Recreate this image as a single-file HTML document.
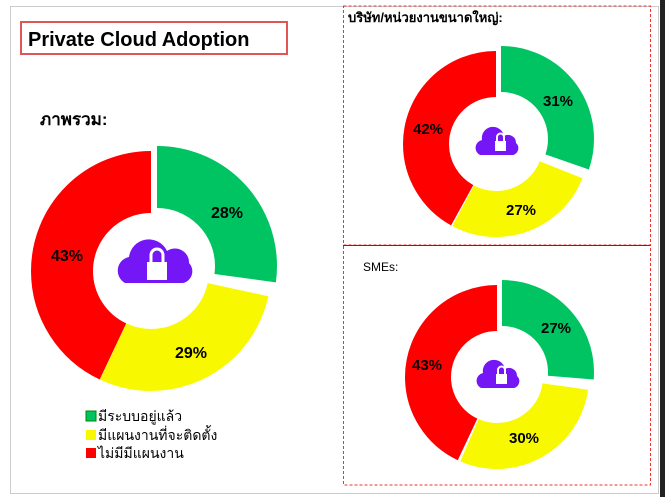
<!DOCTYPE html>
<html><head><meta charset="utf-8"><style>
html,body{margin:0;padding:0;background:#fff;}
body{width:665px;height:497px;overflow:hidden;position:relative;font-family:"Liberation Sans","Noto Sans CJK SC",sans-serif;}
</style></head><body>
<svg width="665" height="497" viewBox="0 0 665 497" xmlns="http://www.w3.org/2000/svg" style="position:absolute;left:0;top:0">
<rect x="10.5" y="6.5" width="648" height="487" fill="none" stroke="#ccc" stroke-width="1"/>
<rect x="660" y="0" width="5" height="497" fill="#222"/>
<rect x="21" y="22" width="266" height="32" fill="#fff" stroke="#e05555" stroke-width="2"/>
<text x="28" y="46" font-size="20" font-weight="bold" fill="#000">Private Cloud Adoption</text>
<text x="40" y="125" font-size="17" font-weight="bold" font-family="Liberation Sans,Noto Sans CJK SC,sans-serif">ภาพรวม:</text>
<rect x="343.5" y="6" width="307" height="239" fill="none" stroke="#e33" stroke-dasharray="3,2"/>
<rect x="343.5" y="245" width="307" height="240" fill="none" stroke="#e33" stroke-dasharray="3,2"/>
<line x1="343" y1="245.5" x2="650" y2="245.5" stroke="#c00" stroke-width="1"/>
<text x="348" y="22" font-size="13" font-weight="bold">บริษัท/หน่วยงานขนาดใหญ่:</text>
<text x="363" y="271" font-size="12">SMEs:</text>

<!-- left donut c(151,271) r89 sw62 C=559.2 -->
<g transform="rotate(-90 151 271)" fill="none" stroke-width="62">
 <circle cx="151" cy="271" r="89" stroke="#ff0000" stroke-dasharray="240.5 600" stroke-dashoffset="-318.8"/>
 <circle cx="151" cy="271" r="89" stroke="#f8f800" stroke-dasharray="160 600" stroke-dashoffset="-158.6"/>
</g>
<g transform="translate(6,-5) rotate(-90 151 271)" fill="none" stroke-width="62">
 <circle cx="151" cy="271" r="89" stroke="#00c462" stroke-dasharray="152 600" stroke-dashoffset="0"/>
</g>
<g font-size="16" font-weight="bold" text-anchor="middle">
<text x="227" y="218">28%</text><text x="191" y="358">29%</text><text x="67" y="261">43%</text>
</g>

<!-- top right -->
<g transform="rotate(-90 496 144)" fill="none" stroke-width="46">
 <circle cx="496" cy="144" r="70" stroke="#ff0000" stroke-dasharray="184.7 600" stroke-dashoffset="-255.1"/>
 <circle cx="496" cy="144" r="70" stroke="#f8f800" stroke-dasharray="117.7 600" stroke-dashoffset="-136.3"/>
</g>
<g transform="translate(5,-5) rotate(-90 496 144)" fill="none" stroke-width="46">
 <circle cx="496" cy="144" r="70" stroke="#00c462" stroke-dasharray="133.3 600"/>
</g>
<g font-size="15" font-weight="bold" text-anchor="middle">
<text x="558" y="106">31%</text><text x="521" y="215">27%</text><text x="428" y="134">42%</text>
</g>

<!-- bottom right -->
<g transform="rotate(-90 497 377)" fill="none" stroke-width="46">
 <circle cx="497" cy="377" r="69" stroke="#ff0000" stroke-dasharray="186.4 600" stroke-dashoffset="-247.1"/>
 <circle cx="497" cy="377" r="69" stroke="#f8f800" stroke-dasharray="127 600" stroke-dashoffset="-118"/>
</g>
<g transform="translate(5,-5) rotate(-90 497 377)" fill="none" stroke-width="46">
 <circle cx="497" cy="377" r="69" stroke="#00c462" stroke-dasharray="114 600"/>
</g>
<g font-size="15" font-weight="bold" text-anchor="middle">
<text x="556" y="333">27%</text><text x="524" y="443">30%</text><text x="427" y="370">43%</text>
</g>

<!-- clouds -->
<g fill="#7416f5">
 <path d="M125 283 a14 14 0 0 1 4 -26 a20 20 0 0 1 38 -6 a14 14 0 0 1 22 12 a12 12 0 0 1 -6 20 z"/>
 <path d="M480 155 a8 8 0 0 1 2 -15 a11 11 0 0 1 22 -4 a8 8 0 0 1 12 7 a7 7 0 0 1 -3 12 z"/>
 <path d="M481 388 a8 8 0 0 1 2 -15 a11 11 0 0 1 22 -4 a8 8 0 0 1 12 7 a7 7 0 0 1 -3 12 z"/>
</g>
<g fill="#fff" stroke="#fff">
 <rect x="147" y="262" width="20" height="18" stroke="none"/>
 <path d="M151 263 v-8 a6 6 0 0 1 12 0 v8" fill="none" stroke-width="3"/>
 <rect x="495" y="141" width="11" height="10" stroke="none"/>
 <path d="M497 142 v-5 a3.5 3.5 0 0 1 7 0 v5" fill="none" stroke-width="2"/>
 <rect x="496" y="374" width="11" height="10" stroke="none"/>
 <path d="M498 375 v-5 a3.5 3.5 0 0 1 7 0 v5" fill="none" stroke-width="2"/>
</g>

<!-- legend -->
<rect x="86" y="411" width="10" height="10" fill="#00c462" stroke="#080"/>
<rect x="86" y="430" width="10" height="10" fill="#f8f800"/>
<rect x="86" y="448" width="10" height="10" fill="#ff0000"/>
<g font-size="14" fill="#000">
<text x="98" y="421">มีระบบอยู่แล้ว</text>
<text x="98" y="440">มีแผนงานที่จะติดตั้ง</text>
<text x="98" y="458">ไม่มีมีแผนงาน</text>
</g>
</svg>
</body></html>
